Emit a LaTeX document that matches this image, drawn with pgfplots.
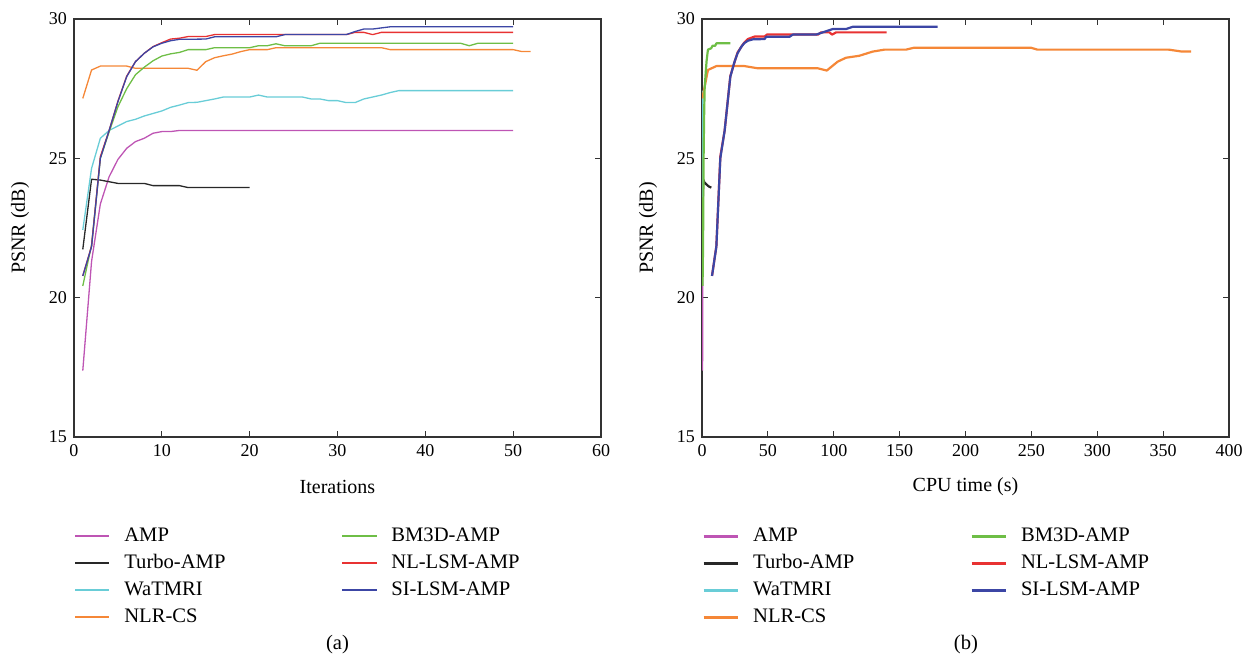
\documentclass[border=0pt]{standalone}
\usepackage{pgfplots}
\pgfplotsset{compat=1.18}
\usepackage{fontspec}
\setmainfont{Liberation Serif}

\definecolor{ampc}{RGB}{190,85,180}
\definecolor{turboc}{RGB}{40,40,40}
\definecolor{watc}{RGB}{105,205,215}
\definecolor{nlrc}{RGB}{245,135,55}
\definecolor{bmc}{RGB}{110,190,70}
\definecolor{nlc}{RGB}{232,50,50}
\definecolor{sic}{RGB}{60,70,165}

\pgfplotsset{
  mystyle/.style={
    scale only axis, width=263.5pt, height=209pt,
    ymin=15, ymax=30, ytick={15,20,25,30},
    axis line style={draw=black!80, line width=0.6pt},
    tick align=inside, major tick length=2.8pt,
    every tick/.style={black!80, line width=0.6pt},
    xtick pos=both, ytick pos=both,
    /pgf/number format/assume math mode=true,
    tick label style={font=\fontsize{9}{10}\selectfont},
    label style={font=\fontsize{9}{10}\selectfont},
    ylabel={PSNR (dB)},
    every axis y label/.style={at={(axis description cs:-0.1025,0.5)}, rotate=90, anchor=center},
    every axis x label/.style={at={(axis description cs:0.5,-0.12)}, anchor=center},
    legend columns=2,
    legend style={draw=none, fill=none, inner sep=0pt,
      at={(axis description cs:0.0,-0.215)}, anchor=north west,
      nodes={inner sep=0pt, text height=7pt, text depth=2pt, font=\fontsize{10.3}{12}\selectfont},
      row sep=4.5pt,
      /tikz/every odd column/.append style={column sep=7pt},
      /tikz/every even column/.append style={column sep=58pt}},
    legend cell align=left,
  },
  lp/.style={line width=0.65pt, line join=round, forget plot},
  rp/.style={line width=1.1pt, line join=round, forget plot},
}

\begin{document}
\begin{tikzpicture}
\useasboundingbox (-37pt,-112.5pt) rectangle (592.5pt,218.5pt);

% ---------------- (a) Iterations ----------------
\begin{axis}[mystyle, xmin=0, xmax=60, xtick={0,10,...,60}, xlabel={Iterations}]
\addplot[ampc, lp] coordinates {(1,17.38) (2,21.3) (3,23.36) (4,24.34) (5,24.96) (6,25.36) (7,25.6) (8,25.72) (9,25.9) (10,25.96) (11,25.96) (12,26.0) (50,26.0)};
\addplot[turboc, lp] coordinates {(1,21.73) (2,24.25) (3,24.22) (4,24.16) (5,24.1) (8,24.1) (9,24.02) (12,24.02) (13,23.95) (20,23.95)};
\addplot[watc, lp] coordinates {(1,22.43) (2,24.64) (3,25.72) (4,26.0) (5,26.16) (6,26.32) (7,26.4) (8,26.52) (9,26.61) (10,26.7) (11,26.83) (12,26.91) (13,27.0) (14,27.01) (15,27.07) (16,27.13) (17,27.2) (20,27.2) (21,27.27) (22,27.2) (26,27.2) (27,27.13) (28,27.13) (29,27.07) (30,27.07) (31,27.0) (32,27.0) (33,27.13) (34,27.2) (35,27.27) (36,27.36) (37,27.43) (50,27.43)};
\addplot[nlrc, lp] coordinates {(1,27.15) (2,28.17) (3,28.31) (6,28.31) (7,28.23) (13,28.23) (14,28.16) (15,28.47) (16,28.61) (17,28.68) (18,28.74) (19,28.83) (20,28.9) (22,28.9) (23,28.97) (35,28.97) (36,28.9) (50,28.9) (51,28.83) (52,28.83)};
\addplot[bmc, lp] coordinates {(1,20.42) (2,21.89) (3,25.0) (4,25.95) (5,26.85) (6,27.5) (7,28.0) (8,28.27) (9,28.5) (10,28.67) (11,28.75) (12,28.8) (13,28.9) (15,28.9) (16,28.97) (20,28.97) (21,29.04) (22,29.04) (23,29.11) (24,29.04) (27,29.04) (28,29.13) (44,29.13) (45,29.04) (46,29.13) (50,29.13)};
\addplot[nlc, lp] coordinates {(1,20.78) (2,21.85) (3,25.06) (4,26.0) (5,27.05) (6,27.95) (7,28.47) (8,28.77) (9,29.01) (10,29.15) (11,29.28) (12,29.31) (13,29.37) (15,29.37) (16,29.44) (31,29.44) (32,29.52) (33,29.52) (34,29.44) (35,29.52) (50,29.52)};
\addplot[sic, lp] coordinates {(1,20.78) (2,21.83) (3,25.0) (4,26.0) (5,27.03) (6,27.93) (7,28.47) (8,28.77) (9,29.0) (10,29.13) (11,29.22) (12,29.27) (15,29.28) (16,29.36) (23,29.36) (24,29.44) (31,29.44) (32,29.55) (33,29.64) (34,29.64) (35,29.68) (36,29.72) (50,29.72)};
\addlegendimage{ampc, line width=0.9pt}\addlegendentry{AMP}
\addlegendimage{bmc, line width=0.9pt}\addlegendentry{BM3D-AMP}
\addlegendimage{turboc, line width=0.9pt}\addlegendentry{Turbo-AMP}
\addlegendimage{nlc, line width=0.9pt}\addlegendentry{NL-LSM-AMP}
\addlegendimage{watc, line width=0.9pt}\addlegendentry{WaTMRI}
\addlegendimage{sic, line width=0.9pt}\addlegendentry{SI-LSM-AMP}
\addlegendimage{nlrc, line width=0.9pt}\addlegendentry{NLR-CS}
\end{axis}

% ---------------- (b) CPU time ----------------
\begin{axis}[mystyle, at={(314pt,0pt)}, anchor=south west, xmin=0, xmax=400, xtick={0,50,...,400}, xlabel={CPU time (s)}]
\addplot[ampc, rp] coordinates {(0.1,17.38) (0.2,21.3) (0.3,23.36) (0.5,24.96) (0.8,25.96) (1.2,26.0)};
\addplot[turboc, rp] coordinates {(0.3,21.73) (0.8,24.25) (1.9,24.13) (3.0,24.08) (4.4,24.02) (5.5,23.98) (7.1,23.95)};
\addplot[watc, rp] coordinates {(0.1,22.43) (0.2,25.72) (0.3,26.7) (0.4,27.2) (0.6,27.43)};
\addplot[nlrc, rp] coordinates {(0.3,27.15) (4.5,28.17) (10.9,28.31) (32.3,28.31) (42.4,28.23) (87.9,28.23) (94.7,28.15) (103,28.47) (109.3,28.61) (119.4,28.68) (129.5,28.83) (138.4,28.9) (154.8,28.9) (161,28.97) (249.6,28.97) (254.6,28.9) (354.3,28.9) (364.4,28.83) (371.2,28.83)};
\addplot[bmc, rp] coordinates {(0.4,20.42) (0.8,21.89) (1.2,25.0) (1.6,26.5) (2.0,27.5) (3.0,28.2) (3.5,28.5) (4.5,28.9) (7,28.95) (8,29.04) (10,29.04) (11,29.13) (21.5,29.13)};
\addplot[nlc, rp] coordinates {(7.6,20.78) (10.9,21.85) (13.9,25.06) (17.2,26.0) (19.5,27.05) (21.5,27.95) (24.7,28.45) (27,28.8) (29.8,29.0) (32,29.15) (34.8,29.28) (39.9,29.37) (47.5,29.37) (49.2,29.44) (88,29.44) (90.4,29.52) (96.7,29.52) (98.7,29.44) (101.8,29.52) (140.1,29.52)};
\addplot[sic, rp] coordinates {(7.6,20.78) (10.9,21.83) (13.9,25.0) (17.2,26.0) (19.5,27.03) (21.5,27.93) (24.7,28.47) (27,28.77) (29.8,29.0) (32,29.13) (34.8,29.22) (38.6,29.27) (47.5,29.28) (48.7,29.36) (66.4,29.36) (68.9,29.44) (86.6,29.44) (99.2,29.64) (109.3,29.64) (114.4,29.72) (178.8,29.72)};
\addlegendimage{ampc, line width=1.3pt}\addlegendentry{AMP}
\addlegendimage{bmc, line width=1.3pt}\addlegendentry{BM3D-AMP}
\addlegendimage{turboc, line width=1.3pt}\addlegendentry{Turbo-AMP}
\addlegendimage{nlc, line width=1.3pt}\addlegendentry{NL-LSM-AMP}
\addlegendimage{watc, line width=1.3pt}\addlegendentry{WaTMRI}
\addlegendimage{sic, line width=1.3pt}\addlegendentry{SI-LSM-AMP}
\addlegendimage{nlrc, line width=1.3pt}\addlegendentry{NLR-CS}
\end{axis}

\node[font=\fontsize{10.3}{12}\selectfont] at (131.75pt,-104pt) {(a)};
\node[font=\fontsize{10.3}{12}\selectfont] at (446pt,-104pt) {(b)};
\end{tikzpicture}
\end{document}
